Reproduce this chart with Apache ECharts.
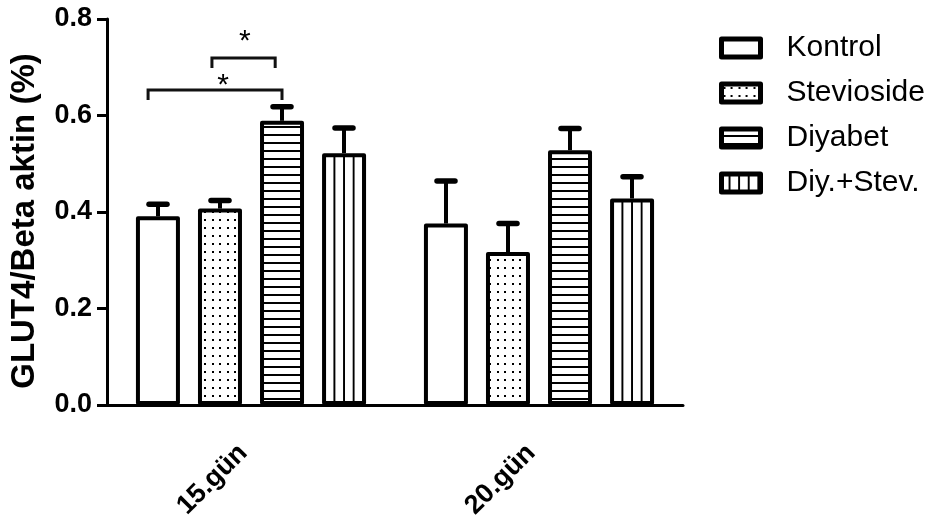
<!DOCTYPE html>
<html>
<head>
<meta charset="utf-8">
<script src="https://cdn.jsdelivr.net/npm/echarts@6/dist/echarts.min.js"></script>
<style>
  html, body { margin: 0; padding: 0; background: #fff; }
  #chart { width: 938px; height: 517px; }
</style>
</head>
<body>
<div id="chart"></div>
<script>
var categories = ["15.gün", "20.gün"];
var seriesNames = ["Kontrol", "Stevioside", "Diyabet", "Diy.+Stev."];
var kontrolMean = [0.391, 0.376];
var kontrolSem = [0.025, 0.088];
var steviosideMean = [0.407, 0.317];
var steviosideSem = [0.017, 0.059];
var diyabetMean = [0.589, 0.528];
var diyabetSem = [0.029, 0.045];
var diyStevMean = [0.522, 0.428];
var diyStevSem = [0.052, 0.045];
var yTicks = [0.0, 0.2, 0.4, 0.6, 0.8];
// [category, from bar, to bar, bracket height, star bar pos, star height]
var brackets = [
  [0, -0.16, 2.0, 0.653, 1.05, 0.676],
  [0, 0.87, 1.89, 0.719, 1.4, 0.767]
];

var FONT = "'Liberation Sans', Arial, sans-serif";
var BAR_W = 44;
var STEP = 62; // bar width + gap

function makePattern(w, h, draw) {
  var c = document.createElement("canvas");
  c.width = w;
  c.height = h;
  var ctx = c.getContext("2d");
  ctx.fillStyle = "#fff";
  ctx.fillRect(0, 0, w, h);
  ctx.fillStyle = "#000";
  draw(ctx);
  return c;
}
var dotsImg = makePattern(15, 8, function (ctx) {
  ctx.fillRect(2, 3, 2, 2);
  ctx.fillRect(9, 3, 2, 2);
});
var hLinesImg = makePattern(8, 8, function (ctx) {
  ctx.fillRect(0, 6, 8, 2);
});
var vLinesImg = makePattern(10, 10, function (ctx) {
  ctx.fillRect(4, 0, 2, 10);
});

var fills = [
  "#fff",
  { image: dotsImg, repeat: "repeat" },
  { image: hLinesImg, repeat: "repeat" },
  { image: vLinesImg, repeat: "repeat", x: 3.2, scaleX: 0.96 }
];
var means = [kontrolMean, steviosideMean, diyabetMean, diyStevMean];
var sems = [kontrolSem, steviosideSem, diyabetSem, diyStevSem];

function errorRenderer(slot) {
  return function (params, api) {
    var cat = api.value(0);
    var m = api.value(1);
    var base = api.coord([cat, m]);
    var top = api.coord([cat, m + api.value(2)]);
    var x = base[0] + (slot - 1.5) * STEP;
    return {
      type: "group",
      children: [
        { type: "line", shape: { x1: x, y1: base[1], x2: x, y2: top[1] },
          style: { stroke: "#000", lineWidth: 4 } },
        { type: "line", shape: { x1: x - 9, y1: top[1], x2: x + 9, y2: top[1] },
          style: { stroke: "#000", lineWidth: 5.5, lineCap: "round" } }
      ]
    };
  };
}

function bracketRenderer(params, api) {
  var cat = api.value(0);
  var c = api.coord([cat, api.value(3)]);
  var x1 = c[0] + (api.value(1) - 1.5) * STEP;
  var x2 = c[0] + (api.value(2) - 1.5) * STEP;
  var y = c[1];
  var s = api.coord([cat, api.value(5)]);
  var sx = s[0] + (api.value(4) - 1.5) * STEP;
  return {
    type: "group",
    children: [
      { type: "polyline",
        shape: { points: [[x1, y + 10], [x1, y], [x2, y], [x2, y + 10]] },
        style: { stroke: "#111", lineWidth: 3, fill: null } },
      { type: "text", x: sx, y: s[1] + 7,
        style: { text: "*", font: "30px " + FONT, fill: "#000",
                 align: "center", verticalAlign: "middle" } }
    ]
  };
}

var series = [];
seriesNames.forEach(function (name, i) {
  series.push({
    name: name,
    type: "bar",
    barWidth: BAR_W,
    barGap: "41%",
    data: means[i],
    itemStyle: {
      color: fills[i],
      borderColor: "#000",
      borderWidth: 4,
      borderJoin: "round"
    },
    emphasis: { disabled: true },
    z: 2
  });
});
seriesNames.forEach(function (name, i) {
  series.push({
    name: name + " err",
    type: "custom",
    renderItem: errorRenderer(i),
    data: categories.map(function (c, k) { return [k, means[i][k], sems[i][k]]; }),
    encode: { x: 0, y: 1 },
    z: 3,
    silent: true
  });
});
series.push({
  name: "sig",
  type: "custom",
  renderItem: bracketRenderer,
  data: brackets,
  encode: { x: 0, y: 3 },
  z: 3,
  silent: true
});

var chart = echarts.init(document.getElementById("chart"));
chart.setOption({
  animation: false,
  backgroundColor: "#fff",
  grid: { left: 107, right: 255, top: 19, bottom: 112, outerBoundsMode: "none" },
  legend: {
    data: seriesNames,
    orient: "vertical",
    left: 714,
    top: 28,
    itemWidth: 39,
    itemHeight: 18,
    itemGap: 15,
    icon: "rect",
    selectedMode: false,
    itemStyle: { borderColor: "#000", borderWidth: 5, borderJoin: "round" },
    textStyle: { fontFamily: FONT, fontSize: 30, color: "#000", padding: [0, 0, 0, 21] }
  },
  xAxis: {
    type: "category",
    data: categories,
    boundaryGap: true,
    axisLine: { lineStyle: { color: "#000", width: 3 } },
    axisTick: { alignWithLabel: true, length: 10, lineStyle: { color: "#000", width: 3 } },
    axisLabel: {
      rotate: 45,
      margin: 36,
      padding: [0, 11, 0, 0],
      fontFamily: FONT,
      fontWeight: "bold",
      fontSize: 27,
      color: "#000"
    },
    splitLine: { show: false }
  },
  yAxis: {
    type: "value",
    min: yTicks[0],
    max: yTicks[yTicks.length - 1],
    interval: 0.2,
    name: "GLUT4/Beta aktin (%)",
    nameLocation: "middle",
    nameGap: 66,
    nameTextStyle: { fontFamily: FONT, fontWeight: "bold", fontSize: 33, color: "#000", padding: [0, 18, 0, 0] },
    axisLine: { show: true, lineStyle: { color: "#000", width: 3 } },
    axisTick: { show: true, length: 10, lineStyle: { color: "#000", width: 3 } },
    axisLabel: {
      margin: 15,
      fontFamily: FONT,
      fontWeight: "bold",
      fontSize: 27,
      color: "#000",
      formatter: function (v) { return v.toFixed(1); }
    },
    splitLine: { show: false }
  },
  series: series
});
</script>
</body>
</html>
